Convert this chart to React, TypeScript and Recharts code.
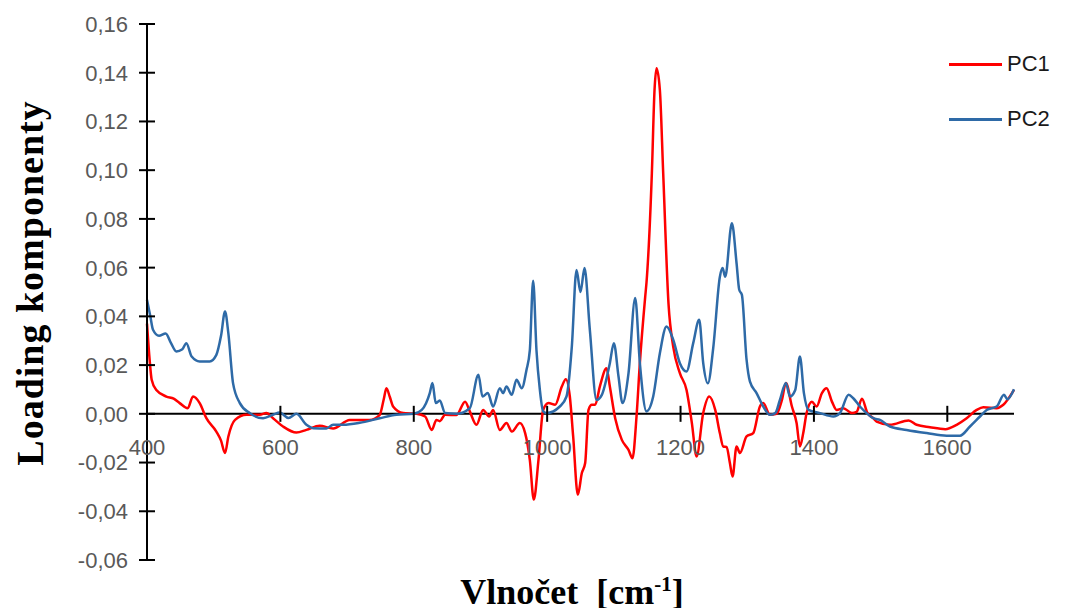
import { LineChart, Line, XAxis, YAxis, ReferenceLine } from "recharts";

// wavenumbers / loadings
const pc1Wavenumbers = [
  400, 404, 407, 414, 429, 440, 449, 461, 469, 479, 489, 504, 511, 517, 522, 532, 549, 569, 579, 589,
  604, 624, 639, 659, 679, 704, 734, 749, 755, 759, 764, 769, 784, 804, 817, 827, 834, 839, 847, 864,
  877, 884, 894, 904, 913, 919, 929, 939, 947, 959, 967, 974, 980, 987, 994, 1002, 1012, 1022, 1028, 1034,
  1039, 1046, 1052, 1057, 1062, 1067, 1072, 1079, 1089, 1094, 1102, 1112, 1122, 1128, 1134, 1139, 1147, 1149, 1157, 1161,
  1164, 1169, 1174, 1182, 1189, 1199, 1209, 1217, 1224, 1234, 1243, 1252, 1259, 1264, 1269, 1274, 1278, 1284, 1289, 1299,
  1309, 1319, 1324, 1334, 1344, 1352, 1358, 1367, 1374, 1379, 1384, 1389, 1397, 1404, 1412, 1419, 1427, 1434, 1444, 1457,
  1464, 1472, 1480, 1489, 1494, 1514, 1542, 1554, 1574, 1597, 1614, 1629, 1644, 1654, 1674, 1684, 1700,
];
const pc1Loadings = [
  0.037, 0.022, 0.014, 0.0098, 0.0071, 0.0062, 0.0044, 0.0023, 0.0071, 0.0044, -0.0018, -0.0073, -0.011, -0.0161, -0.0093, -0.0025, -0.0004, -0.0004, 0.0003, -0.0018,
  -0.0052, -0.0077, -0.0066, -0.0049, -0.006, -0.0025, -0.0025, -0.0004, 0.006, 0.0105, 0.007, 0.003, 0.0003, 0, -0.0011, -0.0066, -0.0025, -0.003, -0.0004, -0.0005,
  0.005, 0.001, -0.0045, 0.0016, -0.0011, 0.0016, -0.0066, -0.0038, -0.0073, -0.0038, -0.0079, -0.0189, -0.0352, -0.0189, 0.0016, 0.0044, 0.0037, 0.0112, 0.0142, 0.0071,
  -0.0093, -0.0332, -0.0243, -0.0202, 0.0016, 0.0037, 0.0037, 0.0112, 0.0187, 0.0112, -0.0018, -0.0107, -0.0148, -0.0182, -0.0011, 0.0208, 0.048, 0.054, 0.0988, 0.1329,
  0.1418, 0.1329, 0.0988, 0.045, 0.0276, 0.0167, 0.0098, -0.0038, -0.0175, 0.0003, 0.0071, 0.0016, -0.008, -0.0134, -0.0136, -0.0202, -0.0257, -0.0134, -0.0161, -0.0093,
  -0.0079, 0.003, 0.0044, -0.0004, 0, 0.0057, 0.0126, 0.003, -0.0038, -0.0134, -0.0079, 0.0003, 0.005, 0.003, 0.0085, 0.0105, 0.005, 0.0016, 0.0023, 0.0003,
  0.0008, 0.0062, 0.0005, -0.0018, -0.0032, -0.0045, -0.0027, -0.0045, -0.0055, -0.0063, -0.0045, -0.0018, 0.0016, 0.0027, 0.0023, 0.0037, 0.0098,
];

const pc2Wavenumbers = [
  400, 405, 409, 418, 428, 436, 444, 453, 459, 467, 479, 494, 504, 511, 517, 522, 529, 539, 554, 574,
  589, 599, 612, 624, 639, 649, 669, 679, 694, 719, 749, 774, 800, 812, 824, 828, 833, 839, 847, 864,
  884, 897, 903, 911, 919, 929, 934, 939, 947, 954, 962, 969, 974, 979, 984, 989, 994, 999, 1019, 1029,
  1037, 1044, 1050, 1056, 1064, 1074, 1082, 1094, 1100, 1107, 1113, 1122, 1132, 1139, 1149, 1159, 1169, 1179, 1189, 1199,
  1209, 1219, 1228, 1234, 1241, 1249, 1259, 1263, 1267, 1277, 1284, 1288, 1292, 1299, 1304, 1314, 1324, 1334, 1342, 1349,
  1358, 1364, 1372, 1379, 1385, 1392, 1409, 1429, 1439, 1452, 1459, 1469, 1479, 1489, 1499, 1514, 1539, 1569, 1599, 1619,
  1634, 1649, 1659, 1674, 1685, 1690, 1700,
];
const pc2Loadings = [
  0.0468, 0.04, 0.0345, 0.032, 0.033, 0.029, 0.0256, 0.0265, 0.029, 0.0235, 0.0215, 0.0215, 0.0242, 0.032, 0.042, 0.033, 0.0126, 0.0045, 0.0003, -0.0018,
  -0.0004, 0.0005, -0.0017, 0, -0.0045, -0.0059, -0.006, -0.0045, -0.0045, -0.0037, -0.0018, -0.0004, 0, 0.0016, 0.0085, 0.0126, 0.0044, 0.0055, 0.0003, 0,
  0.0023, 0.016, 0.0071, 0.0085, 0.003, 0.0105, 0.0085, 0.0112, 0.0078, 0.014, 0.0105, 0.018, 0.026, 0.0546, 0.026, 0.01, 0.001, 0.0003, 0.003, 0.0071,
  0.0276, 0.059, 0.05, 0.0598, 0.0345, 0.0057, 0.0078, 0.0208, 0.029, 0.0153, 0.0044, 0.0167, 0.0475, 0.0208, 0.001, 0.0071, 0.0249, 0.0358, 0.0304, 0.0208,
  0.0174, 0.029, 0.0386, 0.0208, 0.0125, 0.027, 0.0563, 0.0598, 0.0563, 0.0782, 0.0618, 0.0509, 0.0488, 0.0222, 0.0133, 0.0085, 0.003, -0.0004, 0.0003, 0.0057,
  0.0126, 0.0071, 0.0098, 0.0235, 0.0085, 0.0016, 0.0003, -0.0011, 0.0003, 0.0078, 0.0064, 0.003, 0.0003, -0.0018, -0.0025, -0.0052, -0.0066, -0.0079, -0.009, -0.009,
  -0.0052, -0.0011, 0.0016, 0.003, 0.0078, 0.006, 0.0101,
];

const xTicks = [400, 600, 800, 1000, 1200, 1400, 1600];
const yTicks = [-0.06, -0.04, -0.02, 0, 0.02, 0.04, 0.06, 0.08, 0.1, 0.12, 0.14, 0.16];

const series = [
  { name: "PC1", color: "#ff0000", x: pc1Wavenumbers, y: pc1Loadings },
  { name: "PC2", color: "#2e6aa7", x: pc2Wavenumbers, y: pc2Loadings },
];

const Y_MIN = -0.06;
const Y_MAX = 0.16;
const PLOT_H = 536;
const tickFont = "'Liberation Sans', Arial, sans-serif";
const titleFont = "'Liberation Serif', 'Times New Roman', serif";

const fmt = (v: number) => v.toFixed(2).replace(".", ",");

const YTick = (props: any) => {
  const { x, y, payload } = props;
  return (
    <g>
      <line x1={x - 8} x2={x + 8} y1={y} y2={y} stroke="#000" strokeWidth={2} />
      <text x={x - 19} y={y} dy="0.36em" textAnchor="end" fontSize={22} fill="#595959" fontFamily={tickFont}>
        {fmt(payload.value)}
      </text>
    </g>
  );
};

// x axis crosses at y = 0, so lift the ticks from the plot bottom to the zero line
const XTick = (props: any) => {
  const { x, y, payload } = props;
  const zy = y - (PLOT_H * (0 - Y_MIN)) / (Y_MAX - Y_MIN);
  return (
    <g>
      <line x1={x} x2={x} y1={zy - 8} y2={zy + 8} stroke="#000" strokeWidth={2} />
      <text x={x} y={zy + 33} dy="0.36em" textAnchor="middle" fontSize={22} fill="#595959" fontFamily={tickFont}>
        {payload.value}
      </text>
    </g>
  );
};

export default function App() {
  return (
    <div style={{ position: "relative", width: 1058, height: 600 }}>
      <LineChart width={1058} height={600} margin={{ top: 16, right: 52, bottom: 18, left: 0 }}>
        <XAxis
          type="number"
          dataKey="x"
          domain={[400, 1700]}
          ticks={xTicks}
          interval={0}
          axisLine={false}
          tickLine={false}
          tickSize={0}
          tickMargin={0}
          height={30}
          tick={<XTick />}
          allowDuplicatedCategory={false}
        />
        <YAxis
          type="number"
          domain={[Y_MIN, Y_MAX]}
          ticks={yTicks}
          interval={0}
          width={139}
          axisLine={{ stroke: "#000", strokeWidth: 2 }}
          tickLine={false}
          tickSize={0}
          tickMargin={0}
          tick={<YTick />}
        />
        <ReferenceLine y={0} stroke="#000" strokeWidth={2} />
        {series.map((s) => (
          <Line
            key={s.name}
            data={s.x.map((x, i) => ({ x, y: s.y[i] }))}
            dataKey="y"
            name={s.name}
            type="monotone"
            stroke={s.color}
            strokeWidth={2.5}
            dot={false}
            isAnimationActive={false}
          />
        ))}
      </LineChart>

      {/* legend */}
      <div style={{ position: "absolute", left: 941, top: 40, fontFamily: tickFont, fontSize: 22, color: "#1a1a1a" }}>
        {series.map((s, i) => (
          <div key={s.name} style={{ display: "flex", alignItems: "center", height: 32, marginBottom: i === 0 ? 23 : 0 }}>
            <span style={{ display: "inline-block", width: 53, height: 3, background: s.color, marginRight: 5 }} />
            <span>{s.name}</span>
          </div>
        ))}
      </div>

      {/* axis titles */}
      <div
        style={{
          position: "absolute",
          left: 0,
          width: 1058,
          top: 563,
          textAlign: "center",
          paddingLeft: 70,
          boxSizing: "border-box",
          fontFamily: titleFont,
          fontWeight: "bold",
          fontSize: 36,
          color: "#000",
          whiteSpace: "nowrap",
        }}
      >
        Vlnočet&nbsp; [cm<sup style={{ fontSize: 21 }}>-1</sup>]
      </div>
      <div
        style={{
          position: "absolute",
          left: 22,
          top: 275,
          transform: "translate(-50%, -50%) rotate(-90deg)",
          fontFamily: titleFont,
          fontWeight: "bold",
          fontSize: 38,
          letterSpacing: 1,
          color: "#000",
          whiteSpace: "nowrap",
        }}
      >
        Loading komponenty
      </div>
    </div>
  );
}
